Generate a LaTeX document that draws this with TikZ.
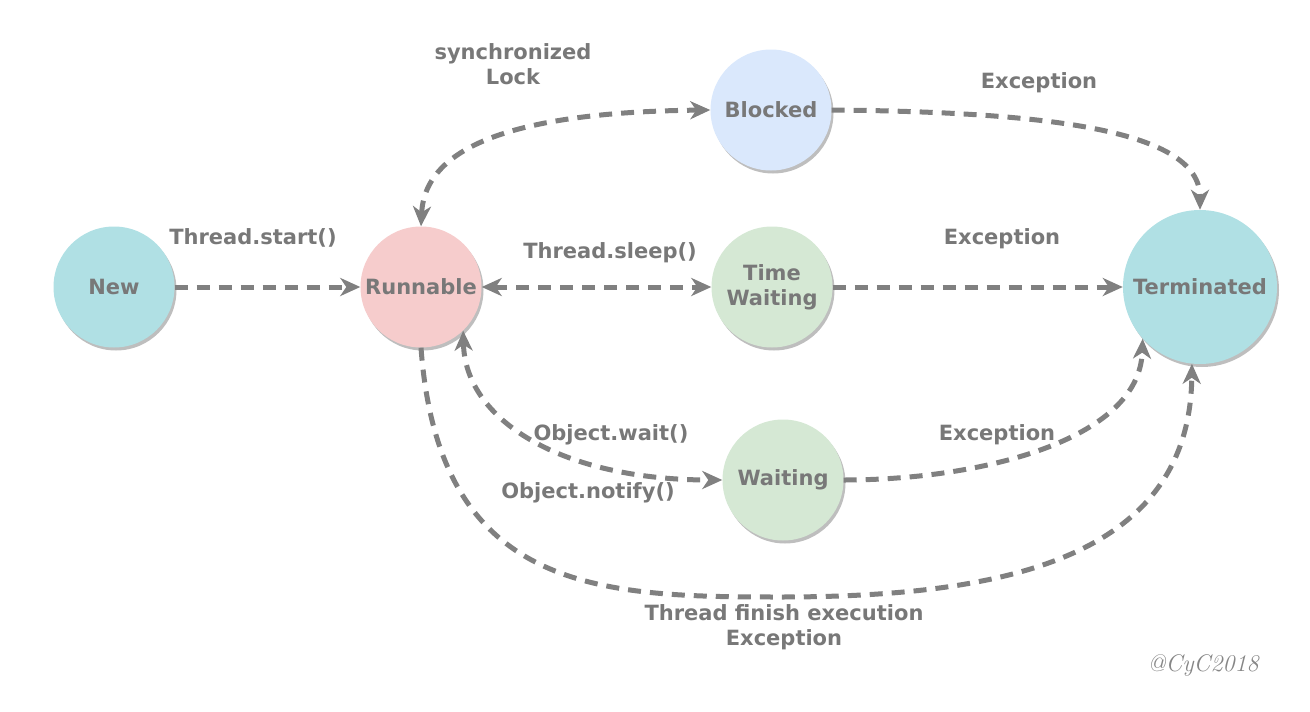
\documentclass[tikz,border=0pt]{standalone}
\usepackage{fontspec}
\setsansfont{DejaVu Sans}
\usetikzlibrary{arrows.meta,shadows}
\definecolor{tealfill}{RGB}{176,224,228}
\definecolor{pinkfill}{RGB}{246,204,204}
\definecolor{bluefill}{RGB}{218,232,252}
\definecolor{greenfill}{RGB}{213,232,212}
\definecolor{shadowgray}{RGB}{190,190,190}
\definecolor{txtgray}{RGB}{120,120,120}
\definecolor{flowgray}{RGB}{128,128,128}
\begin{document}
\begin{tikzpicture}[x=1pt, y=-1pt, font=\sffamily\bfseries\fontsize{21}{25}\selectfont, text=txtgray,
	state/.style={circle, minimum size=121pt, inner sep=0pt, align=center,
		drop shadow={shadow xshift=2pt, shadow yshift=-3pt, fill=shadowgray, opacity=1}},
	flow/.style={draw=flowgray, line width=5pt, dash pattern=on 13pt off 9pt,
		-{Stealth[length=20pt, width=18pt, inset=6pt]}},
	both/.style={flow, {Stealth[length=20pt, width=18pt, inset=6pt]}-{Stealth[length=20pt, width=18pt, inset=6pt]}}]
	\useasboundingbox (0,0) rectangle (1310,712);
	% states
	\node[state, fill=tealfill] (new) at (114,287) {New};
	\node[state, fill=pinkfill] (run) at (421,287) {Runnable};
	\node[state, fill=bluefill] (blk) at (771,110) {Blocked};
	\node[state, fill=greenfill] (tw) at (772,287) {Time\\Waiting};
	\node[state, fill=greenfill] (wait) at (783,480) {Waiting};
	\node[state, fill=tealfill, minimum size=154pt] (term) at (1200,287) {Terminated};
	\coordinate (bot) at (780,597);
	% transitions
	\draw[flow] (new) -- (run);
	\draw[both] (run) -- (tw);
	\draw[flow] (tw) -- (term);
	\draw[both] (run.north) .. controls +(4,-83) and +(-187,2) .. (blk.west);
	\draw[flow] (blk.east) .. controls +(215,2) and +(0,-80) .. (term.north);
	\draw[both] (run.-46) .. controls +(2,90) and +(-160,0) .. (wait.west);
	\draw[flow] (wait.east) .. controls +(135,0) and +(-3,102) .. (term.-138);
	\draw[flow] (run.south) .. controls +(18,245) and +(-180,0) .. (bot) .. controls +(220,0) and +(-2,196) .. (term.-96);
	% labels
	\node[align=center] (lsync) at (513,64) {synchronized\\Lock};
	\node (lstart) at (253,238) {Thread.start()};
	\node (lsleep) at (610,253) {Thread.sleep()};
	\node (lexc1) at (1039,83) {Exception};
	\node (lexc2) at (1002,239) {Exception};
	\node (lwait) at (611,435) {Object.wait()};
	\node (lnotify) at (588,493) {Object.notify()};
	\node (lexc3) at (997,435) {Exception};
	\node[align=center] (lfinish) at (784,627) {Thread finish execution\\Exception};
	\node[font=\rmfamily\itshape\fontsize{24}{28}\selectfont, text=txtgray!90] (sign) at (1203,665) {@CyC2018};
\end{tikzpicture}
\end{document}
